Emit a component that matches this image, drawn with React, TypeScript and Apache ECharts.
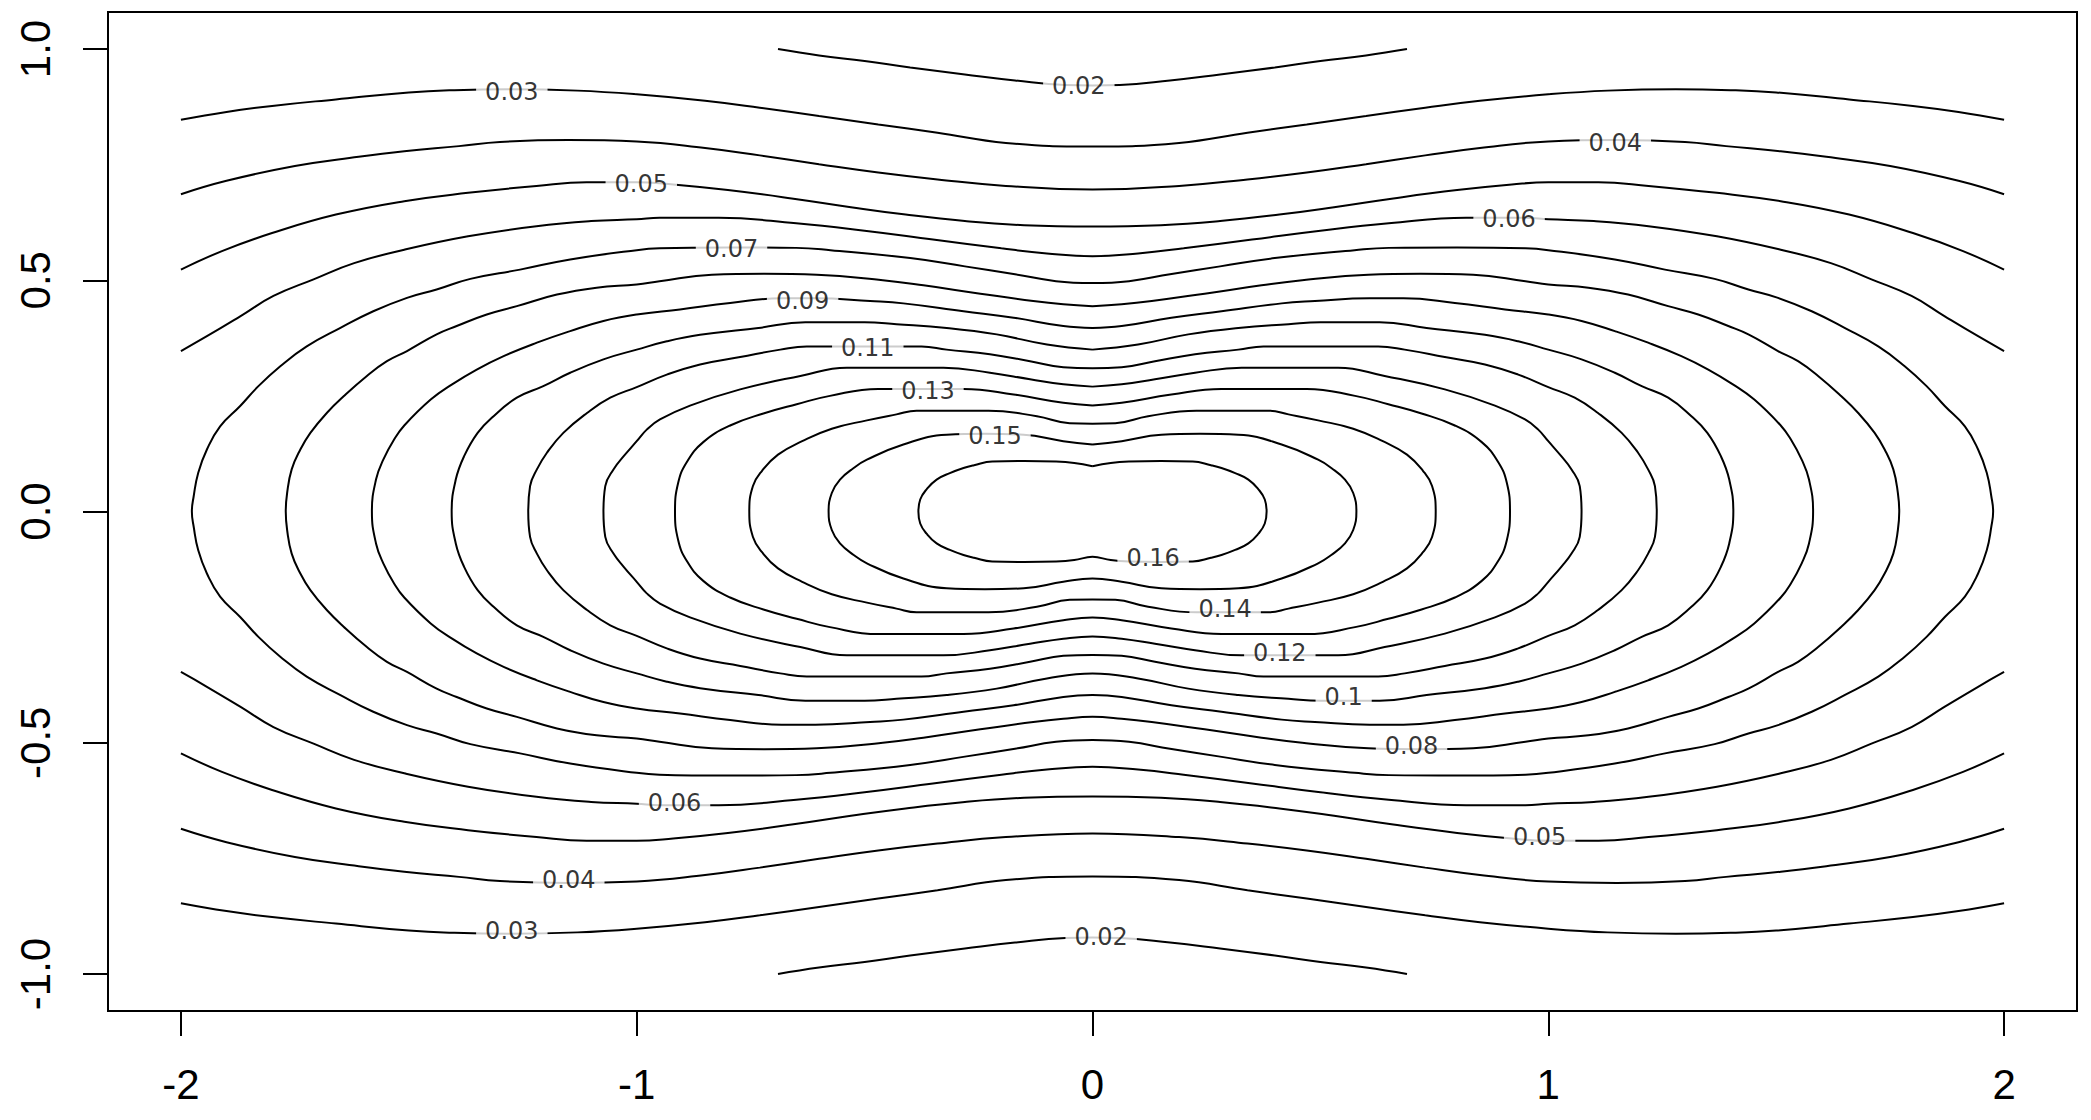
import React, { useEffect, useRef } from "react";
import * as echarts from "echarts";

// Tick values
const xTicks = [-2, -1, 0, 1, 2];
const yTicks = [-1, -0.5, 0, 0.5, 1];
const yTickLabels = ["-1.0", "-0.5", "0.0", "0.5", "1.0"];

// Open contours: right half (x >= 0) of the upper branch
const c002 = [[0, 0.921], [0.06, 0.922], [0.17, 0.932], [0.28, 0.945], [0.4, 0.96], [0.5, 0.974], [0.6, 0.986], [0.69, 1.0]];
const c003 = [[0, 0.789], [0.19, 0.797], [0.34, 0.819], [0.47, 0.837], [0.6, 0.855], [0.73, 0.873], [0.85, 0.888], [1.0, 0.902], [1.13, 0.91], [1.28, 0.913], [1.4, 0.911], [1.5, 0.906], [1.66, 0.891], [1.8, 0.877], [1.9, 0.864], [2.0, 0.847]];
const c004 = [[0, 0.696], [0.19, 0.704], [0.34, 0.718], [0.47, 0.733], [0.6, 0.751], [0.73, 0.77], [0.85, 0.786], [1.0, 0.8], [1.15, 0.803], [1.3, 0.799], [1.39, 0.79], [1.51, 0.779], [1.61, 0.767], [1.75, 0.747], [1.9, 0.715], [2.0, 0.686]];
const c005 = [[0, 0.616], [0.15, 0.619], [0.28, 0.628], [0.41, 0.642], [0.53, 0.658], [0.66, 0.677], [0.8, 0.695], [0.92, 0.707], [1.0, 0.712], [1.11, 0.712], [1.22, 0.704], [1.37, 0.689], [1.51, 0.671], [1.66, 0.642], [1.8, 0.602], [1.91, 0.563], [2.0, 0.523]];
const c006 = [[0, 0.552], [0.1, 0.558], [0.2, 0.569], [0.35, 0.588], [0.5, 0.607], [0.65, 0.623], [0.82, 0.635], [0.95, 0.635], [1.0, 0.632], [1.1, 0.628], [1.22, 0.617], [1.37, 0.595], [1.51, 0.566], [1.62, 0.537], [1.709, 0.502], [1.797, 0.466], [1.87, 0.422], [1.943, 0.379], [2.0, 0.347]];

// Closed contours: first quadrant, from (0, top) down to (x-intercept, 0)
const c007 = [[0, 0.494], [0.08, 0.498], [0.17, 0.513], [0.28, 0.53], [0.4, 0.548], [0.575, 0.565], [0.65, 0.57], [0.8, 0.571], [0.95, 0.569], [1.0, 0.565], [1.146, 0.545], [1.256, 0.523], [1.365, 0.503], [1.439, 0.48], [1.504, 0.462], [1.578, 0.433], [1.65, 0.397], [1.724, 0.357], [1.782, 0.314], [1.83, 0.271], [1.87, 0.228], [1.914, 0.184], [1.943, 0.134], [1.962, 0.084], [1.972, 0.033], [1.976, 0]];
const c008 = [[0, 0.444], [0.064, 0.448], [0.13, 0.455], [0.246, 0.471], [0.371, 0.489], [0.46, 0.5], [0.605, 0.512], [0.72, 0.514], [0.835, 0.512], [0.95, 0.498], [1.0, 0.491], [1.088, 0.484], [1.175, 0.469], [1.263, 0.444], [1.329, 0.426], [1.395, 0.401], [1.439, 0.383], [1.504, 0.347], [1.548, 0.325], [1.592, 0.293], [1.643, 0.249], [1.68, 0.213], [1.716, 0.17], [1.738, 0.134], [1.757, 0.091], [1.767, 0.04], [1.77, 0]];
const c009 = [[0, 0.397], [0.064, 0.401], [0.173, 0.419], [0.283, 0.433], [0.415, 0.45], [0.488, 0.455], [0.608, 0.461], [0.682, 0.461], [0.795, 0.451], [0.905, 0.437], [1.0, 0.426], [1.073, 0.412], [1.146, 0.39], [1.219, 0.365], [1.292, 0.336], [1.351, 0.307], [1.405, 0.275], [1.452, 0.242], [1.51, 0.186], [1.532, 0.156], [1.556, 0.112], [1.572, 0.069], [1.581, 0]];
const c010 = [[0, 0.35], [0.1, 0.361], [0.21, 0.383], [0.32, 0.397], [0.43, 0.405], [0.5, 0.409], [0.63, 0.409], [0.733, 0.397], [0.861, 0.382], [0.934, 0.368], [1.0, 0.35], [1.073, 0.329], [1.146, 0.3], [1.205, 0.271], [1.263, 0.246], [1.314, 0.206], [1.349, 0.17], [1.379, 0.119], [1.397, 0.069], [1.406, 0]];
const c011 = [[0, 0.31], [0.064, 0.312], [0.137, 0.325], [0.225, 0.34], [0.32, 0.35], [0.375, 0.357], [0.627, 0.357], [0.685, 0.35], [0.773, 0.334], [0.861, 0.318], [0.934, 0.296], [1.0, 0.269], [1.058, 0.246], [1.109, 0.213], [1.161, 0.17], [1.197, 0.127], [1.219, 0.091], [1.234, 0.055], [1.238, 0]];
const c012 = [[0, 0.27], [0.064, 0.275], [0.137, 0.286], [0.225, 0.3], [0.327, 0.311], [0.539, 0.311], [0.641, 0.293], [0.773, 0.264], [0.883, 0.229], [0.949, 0.199], [0.978, 0.177], [1.0, 0.152], [1.029, 0.119], [1.051, 0.091], [1.069, 0.055], [1.073, 0]];
const c013 = [[0, 0.229], [0.064, 0.235], [0.173, 0.253], [0.283, 0.265], [0.47, 0.265], [0.576, 0.25], [0.649, 0.232], [0.722, 0.212], [0.795, 0.186], [0.854, 0.15], [0.89, 0.107], [0.909, 0.062], [0.916, 0]];
const c014 = [[0, 0.19], [0.05, 0.191], [0.122, 0.206], [0.228, 0.218], [0.386, 0.218], [0.43, 0.21], [0.495, 0.197], [0.572, 0.179], [0.637, 0.152], [0.69, 0.123], [0.725, 0.088], [0.745, 0.055], [0.753, 0]];
const c015 = [[0, 0.145], [0.064, 0.152], [0.151, 0.166], [0.236, 0.168], [0.32, 0.166], [0.415, 0.145], [0.495, 0.112], [0.524, 0.094], [0.554, 0.069], [0.572, 0.04], [0.579, 0]];
const c016 = [[0, 0.098], [0.04, 0.105], [0.08, 0.108], [0.15, 0.109], [0.22, 0.108], [0.26, 0.1], [0.283, 0.094], [0.313, 0.083], [0.342, 0.069], [0.364, 0.048], [0.378, 0.026], [0.382, 0]];

const openContours = [c002, c003, c004, c005, c006];
const ringContours = [c007, c008, c009, c010, c011, c012, c013, c014, c015, c016];

// Contour labels (position in data units and text)
const labelX = [-1.274, -0.03, 1.147, -0.99, 0.914, -0.792, -0.636, -0.493, -0.361, -0.214, 0.133, 0.291, 0.411, 0.551, 0.7, -0.917, 0.981, -1.149, -1.274, 0.019];
const labelY = [0.908, 0.921, 0.797, 0.709, 0.633, 0.567, 0.455, 0.354, 0.26, 0.163, -0.101, -0.211, -0.306, -0.401, -0.508, -0.63, -0.704, -0.797, -0.906, -0.921];
const labelText = ["0.03", "0.02", "0.04", "0.05", "0.06", "0.07", "0.09", "0.11", "0.13", "0.15", "0.16", "0.14", "0.12", "0.1", "0.08", "0.06", "0.05", "0.04", "0.03", "0.02"];

function openCurve(half: number[][]) {
  const top = [...half.slice(1).reverse().map(([x, y]) => [-x, y]), ...half];
  const bottom = top.map(([x, y]) => [x, -y]);
  return [top, bottom];
}

function ringCurve(q: number[][]) {
  const q4 = q.slice(0, -1).reverse().map(([x, y]) => [x, -y]);
  const q3 = q.slice(1).map(([x, y]) => [-x, -y]);
  const q2 = q.slice(0, -1).reverse().map(([x, y]) => [-x, y]);
  return [...q, ...q4, ...q3, ...q2];
}

export default function App() {
  const ref = useRef<HTMLDivElement>(null);
  useEffect(() => {
    if (!ref.current) return;
    const chart = echarts.init(ref.current, null, { renderer: "svg" });
    const lineStyle = { color: "#000", width: 2 };
    const series: any[] = [];
    openContours.forEach((h) => {
      openCurve(h).forEach((d) => {
        series.push({ type: "line", data: d, symbol: "none", smooth: 0.45, lineStyle, silent: true, z: 2 });
      });
    });
    ringContours.forEach((q) => {
      series.push({ type: "line", data: ringCurve(q), symbol: "none", smooth: 0.45, lineStyle, silent: true, z: 2 });
    });
    series.push({
      type: "scatter",
      z: 10,
      silent: true,
      symbolSize: 1,
      itemStyle: { color: "rgba(0,0,0,0)" },
      data: labelX.map((x, i) => [x, labelY[i], labelText[i]]),
      label: {
        show: true,
        position: "inside",
        formatter: (p: any) => p.value[2],
        color: "#000",
        fontSize: 24,
        fontFamily: "DejaVu Sans",
        backgroundColor: "#fff",
        padding: [3, 9],
      },
    });
    chart.setOption({
      animation: false,
      grid: { left: 108, top: 12, right: 14, bottom: 109, show: true, borderColor: "#000", borderWidth: 2, backgroundColor: "#fff" },
      xAxis: {
        type: "value",
        min: -2.16,
        max: 2.16,
        position: "bottom",
        splitLine: { show: false },
        axisLine: { show: false, onZero: false },
        axisTick: { show: true, customValues: xTicks, length: 25, lineStyle: { color: "#000", width: 2 } },
        axisLabel: {
          customValues: xTicks,
          color: "#000",
          fontSize: 42,
          fontFamily: "Liberation Sans",
          margin: 52,
          formatter: (v: number) => String(v),
        },
      },
      yAxis: {
        type: "value",
        min: -1.08,
        max: 1.08,
        position: "left",
        splitLine: { show: false },
        axisLine: { show: false, onZero: false },
        axisTick: { show: true, customValues: yTicks, length: 25, lineStyle: { color: "#000", width: 2 } },
        axisLabel: {
          customValues: yTicks,
          color: "#000",
          fontSize: 42,
          fontFamily: "Liberation Sans",
          rotate: 90,
          margin: 52,
          formatter: (v: number) => yTickLabels[yTicks.findIndex((t) => Math.abs(t - v) < 1e-9)] ?? String(v),
        },
      },
      series,
    });
    return () => chart.dispose();
  }, []);
  return <div ref={ref} style={{ position: "fixed", left: 0, top: 0, width: 2091, height: 1120, background: "#fff" }} />;
}
